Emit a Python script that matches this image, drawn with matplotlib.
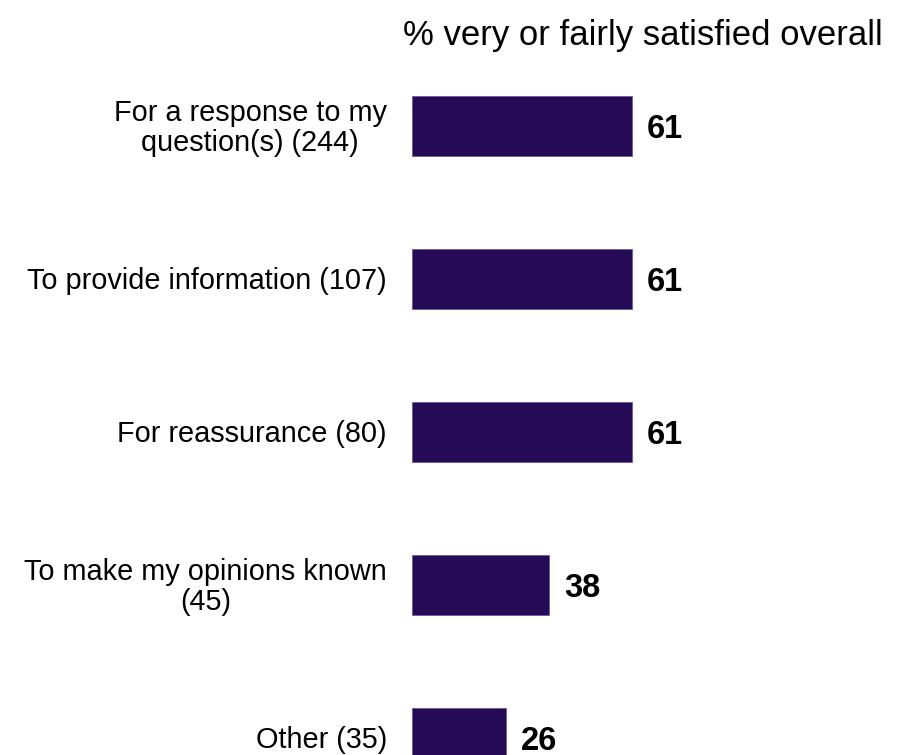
import matplotlib
matplotlib.use("Agg")
import matplotlib.pyplot as plt

plt.rcParams["font.family"] = ["Liberation Sans", "DejaVu Sans"]

# data
categories = [
    "For a response to my\nquestion(s) (244)",
    "To provide information (107)",
    "For reassurance (80)",
    "To make my opinions known\n(45)",
    "Other (35)",
]
values = [61, 61, 61, 38, 26]
title = "% very or fairly satisfied overall"

W, H = 901, 755
fig = plt.figure(figsize=(W / 100, H / 100), dpi=100)
# axes from x=412px to 773px (100 units), y from 60px down to the bottom edge
ax = fig.add_axes([412 / W, 0, 360.7 / W, 695 / H])

ys = list(range(len(values)))
ax.barh(ys, values, height=0.392, color="#250a55", edgecolor="#6a5a9a", linewidth=0.6)
ax.set_xlim(0, 100)
ax.set_ylim(4.111, -0.431)

for y, v in zip(ys, values):
    ax.text(v + 4.2, y + 0.025, str(v), ha="left", va="center",
            fontsize=23.5, fontweight="bold", color="black")

for y, lab in zip(ys, categories):
    ax.text(-7.0, y + 0.015, lab, ha="right", va="center", multialignment="center",
            fontsize=20.8, linespacing=1.1, color="black")

ax.axis("off")

fig.text(643 / W, 1 - 35 / H, title, ha="center", va="center", fontsize=25)

fig.savefig("out.png", dpi=100)
